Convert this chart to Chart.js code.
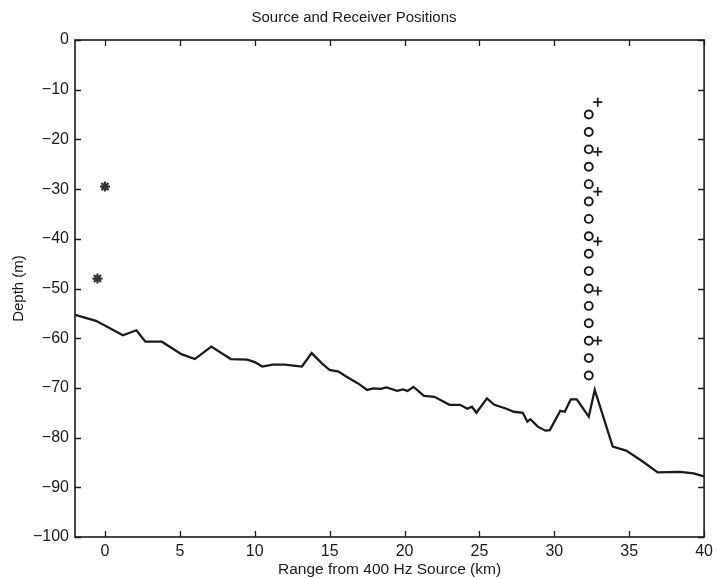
<!DOCTYPE html>
<html>
<head>
<meta charset="utf-8">
<title>Source and Receiver Positions</title>
<script src="https://cdn.jsdelivr.net/npm/chart.js@4/dist/chart.umd.min.js"></script>
<style>
  html, body { margin: 0; padding: 0; background: #ffffff; }
  #wrap { width: 718px; height: 579px; }
</style>
</head>
<body>
<div id="wrap"><canvas id="chart" width="718" height="579"></canvas></div>
<script>
// Sea-floor profile along the track (range in km, depth in m)
const bottomRangeKm = [
  -2.0, -0.6, 1.2, 2.1, 2.7, 3.8, 5.1, 6.0, 7.1, 8.4,
  9.5, 10.0, 10.5, 11.2, 12.0, 12.6, 13.15, 13.8, 14.5, 15.0,
  15.6, 16.1, 16.9, 17.5, 17.9, 18.4, 18.8, 19.5, 19.9, 20.2,
  20.6, 21.3, 22.0, 23.0, 23.7, 24.2, 24.5, 24.8, 25.5, 26.0,
  26.8, 27.3, 27.9, 28.2, 28.4, 28.9, 29.4, 29.7, 30.4, 30.7,
  31.1, 31.5, 32.3, 32.7, 33.9, 34.8, 35.9, 36.9, 38.4, 39.3, 40.0
];
const bottomDepthM = [
  -55.3, -56.5, -59.4, -58.4, -60.7, -60.7, -63.2, -64.2, -61.7, -64.2,
  -64.3, -64.8, -65.7, -65.3, -65.3, -65.5, -65.7, -63.0, -65.1, -66.4,
  -66.7, -67.7, -69.1, -70.4, -70.1, -70.2, -69.9, -70.6, -70.3, -70.6,
  -69.8, -71.6, -71.8, -73.4, -73.4, -74.2, -73.8, -75.0, -72.1, -73.4,
  -74.2, -74.8, -75.0, -76.8, -76.3, -77.8, -78.6, -78.5, -74.6, -74.8,
  -72.3, -72.3, -75.8, -70.4, -81.8, -82.6, -84.8, -87.0, -86.9, -87.2, -87.8
];

// 400 Hz source positions
const sourceRangeKm = [0.0, -0.5];
const sourceDepthM = [-29.5, -48.0];

// Vertical receiver array (circles)
const arrayRangeKm = 32.3;
const arrayDepthM = [
  -15.0, -18.5, -22.0, -25.5, -29.0, -32.5, -36.0, -39.5,
  -43.0, -46.5, -50.0, -53.5, -57.0, -60.5, -64.0, -67.5
];

// Second receiver string (plus marks)
const stringRangeKm = 32.9;
const stringDepthM = [-12.5, -22.5, -30.5, -40.5, -50.5, -60.5];

// Axis tick values
const rangeTicks = [0, 5, 10, 15, 20, 25, 30, 35, 40];
const depthTicks = [0, -10, -20, -30, -40, -50, -60, -70, -80, -90, -100];

const INK = '#1a1a1a';
const FONT = '"Liberation Sans", Arial, Helvetica, sans-serif';

const toPoints = (xs, ys) => ys.map((y, i) => ({ x: Array.isArray(xs) ? xs[i] : xs, y }));

// Box frame with inward tick marks on all four sides
const framePlugin = {
  id: 'frame',
  afterDraw(chart) {
    const { ctx, chartArea: a, scales: { x, y } } = chart;
    const len = 6;
    ctx.save();
    ctx.strokeStyle = INK;
    ctx.lineWidth = 1.6;
    ctx.strokeRect(a.left, a.top, a.right - a.left, a.bottom - a.top);
    ctx.lineWidth = 1.3;
    ctx.beginPath();
    rangeTicks.forEach(v => {
      const px = Math.round(x.getPixelForValue(v)) + 0.5;
      ctx.moveTo(px, a.bottom); ctx.lineTo(px, a.bottom - len);
      ctx.moveTo(px, a.top); ctx.lineTo(px, a.top + len);
    });
    depthTicks.forEach(v => {
      const py = Math.round(y.getPixelForValue(v)) + 0.5;
      ctx.moveTo(a.left, py); ctx.lineTo(a.left + len, py);
      ctx.moveTo(a.right, py); ctx.lineTo(a.right - len, py);
    });
    ctx.stroke();
    ctx.restore();
  }
};

new Chart(document.getElementById('chart'), {
  type: 'scatter',
  data: {
    datasets: [
      {
        label: 'Bottom',
        data: toPoints(bottomRangeKm, bottomDepthM),
        showLine: true,
        borderColor: INK,
        borderWidth: 2.3,
        pointRadius: 0,
        tension: 0
      },
      {
        label: 'Receivers',
        data: toPoints(arrayRangeKm, arrayDepthM),
        pointStyle: 'circle',
        pointRadius: 4,
        borderWidth: 1.9,
        borderColor: INK,
        backgroundColor: 'rgba(255,255,255,0)'
      },
      {
        label: 'String',
        data: toPoints(stringRangeKm, stringDepthM),
        pointStyle: 'cross',
        pointRadius: 4.5,
        borderWidth: 1.7,
        borderColor: INK
      },
      {
        label: 'Sources',
        data: toPoints(sourceRangeKm, sourceDepthM),
        pointStyle: 'star',
        pointRadius: 5,
        borderWidth: 2.2,
        borderColor: '#333333'
      }
    ]
  },
  options: {
    responsive: false,
    animation: false,
    events: [],
    layout: { padding: { left: 0, right: 10, top: 0, bottom: 0 } },
    plugins: {
      legend: { display: false },
      tooltip: { enabled: false },
      title: {
        display: true,
        text: 'Source and Receiver Positions',
        color: INK,
        font: { family: FONT, size: 15, weight: 'normal', lineHeight: 1.2 },
        padding: { top: 9, bottom: 13 }
      }
    },
    scales: {
      x: {
        type: 'linear',
        min: -2,
        max: 40,
        grid: { display: false, drawTicks: false },
        border: { display: false },
        afterBuildTicks: s => { s.ticks = rangeTicks.map(v => ({ value: v })); },
        afterFit: s => { s.height = 42; },
        ticks: {
          color: INK,
          padding: 5,
          maxRotation: 0,
          autoSkip: false,
          font: { family: FONT, size: 16 },
          callback: v => String(v)
        },
        title: {
          display: true,
          text: 'Range from 400 Hz Source (km)',
          color: INK,
          font: { family: FONT, size: 15.5, lineHeight: 1.2 },
          padding: { top: 0, bottom: 0 }
        }
      },
      y: {
        type: 'linear',
        min: -100,
        max: 0,
        grid: { display: false, drawTicks: false },
        border: { display: false },
        afterBuildTicks: s => { s.ticks = depthTicks.map(v => ({ value: v })); },
        afterFit: s => { s.width = 75; },
        ticks: {
          color: INK,
          padding: 6,
          autoSkip: false,
          font: { family: FONT, size: 16 },
          callback: v => (v < 0 ? '\u2212' + Math.abs(v) : String(v))
        },
        title: {
          display: true,
          text: 'Depth (m)',
          color: INK,
          font: { family: FONT, size: 15, lineHeight: 1.2 },
          padding: { top: 10, bottom: 0 }
        }
      }
    }
  },
  plugins: [framePlugin]
});
</script>
</body>
</html>
